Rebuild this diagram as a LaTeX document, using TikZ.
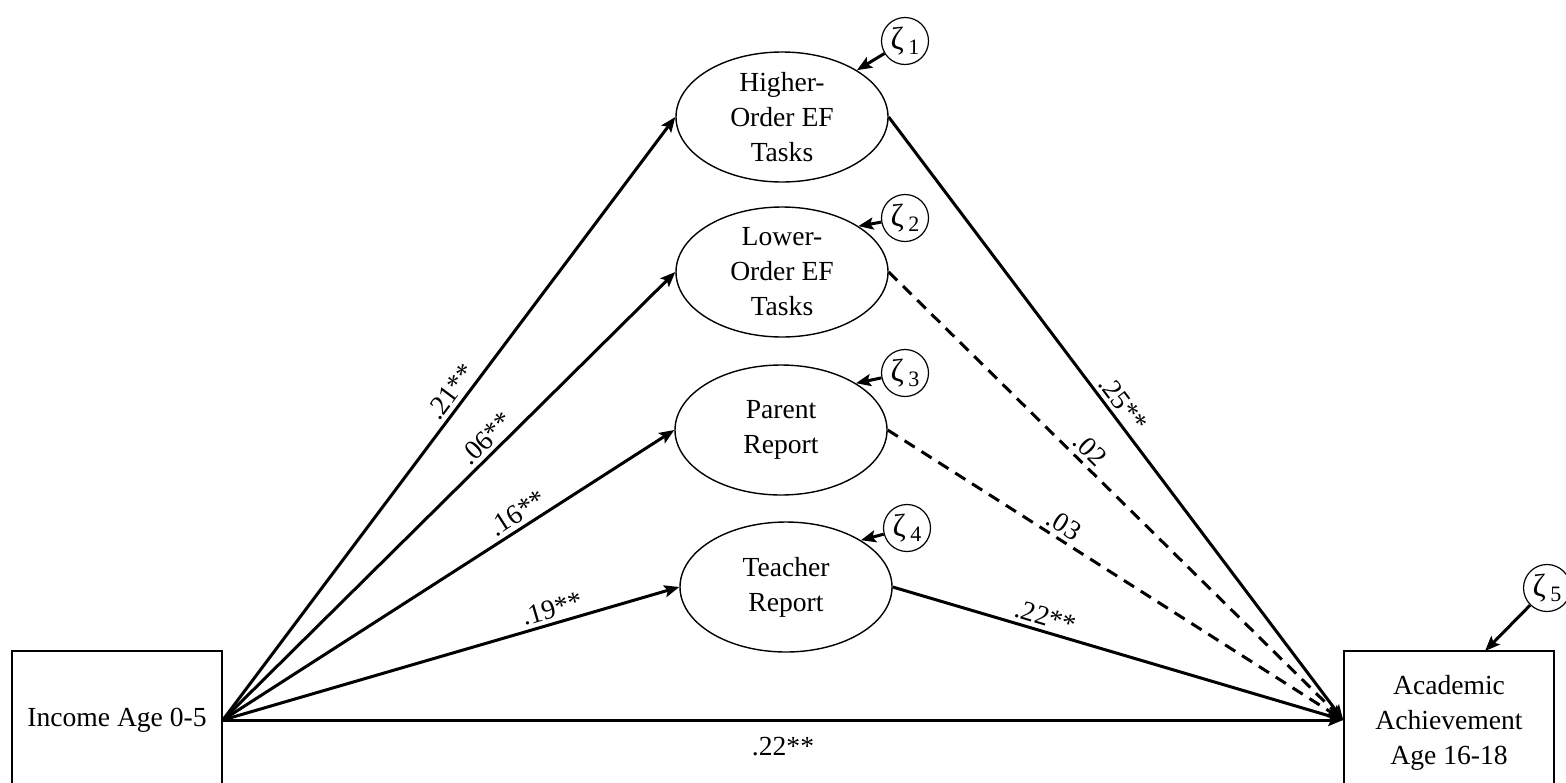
\documentclass[tikz,border=0pt]{standalone}
\usepackage{fontspec}
\setmainfont{Liberation Serif}
\usetikzlibrary{shapes.geometric,arrows.meta}
\newcommand{\resnum}[1]{{\fontsize{16}{16}\selectfont ζ}\,\raisebox{-2.5pt}{\fontsize{11}{11}\selectfont #1}}
\tikzset{
  every node/.style={font=\fontsize{13.8}{17.5}\selectfont},
  latent/.style={ellipse, draw, line width=0.7pt, minimum width=106pt, minimum height=65pt, inner sep=0pt, align=center},
  observed/.style={rectangle, draw, line width=0.8pt, minimum width=105pt, minimum height=69pt, align=center},
  resid/.style={circle, draw, line width=0.6pt, minimum size=23.5pt, inner sep=0pt},
  effect/.style={line width=1.5pt, -{Stealth[length=7.5pt,width=6pt,inset=1.5pt]}},
  nseffect/.style={effect, dash pattern=on 6pt off 4pt},
  coef/.style={sloped, above, inner sep=2pt},
}
\begin{document}
\begin{tikzpicture}[x=0.5pt, y=-0.5pt]
    \useasboundingbox (0, 0) rectangle (1566, 782);

    % Observed variables
    \node[observed] (inc) at (117, 720) {Income Age 0-5};
    \node[observed, text depth=-6pt] (acad) at (1449, 720) {Academic\\Achievement\\Age 16-18};

    % EF measures
    \node[latent] (hi) at (782, 117) {Higher-\\Order EF\\Tasks};
    \node[latent] (lo) at (782, 272) {Lower-\\Order EF\\Tasks};
    \node[latent] (par) at (781, 430) {Parent\\Report};
    \node[latent] (tea) at (786, 587) {Teacher\\Report};

    % Residuals
    \node[resid] (z1) at (905, 41) {\resnum{1}};
    \node[resid] (z2) at (905, 218) {\resnum{2}};
    \node[resid] (z3) at (905, 373) {\resnum{3}};
    \node[resid] (z4) at (907, 528) {\resnum{4}};
    \node[resid] (z5) at (1547, 588) {\resnum{5}};
    \coordinate (z5in) at (1485, 651);

    \draw[effect] (z1) -- (hi.32);
    \draw[effect] (z2) -- (lo.31);
    \draw[effect] (z3) -- (par.32);
    \draw[effect] (z4) -- (tea.32);
    \draw[effect] (z5) -- (z5in);

    % Income to EF
    \draw[effect] (inc.east) -- (hi.west) node[coef, pos=0.53] {.21**};
    \draw[effect] (inc.east) -- (lo.west) node[coef, pos=0.605] {.06**};
    \draw[effect] (inc.east) -- (par.west) node[coef, pos=0.67] {.16**};
    \draw[effect] (inc.east) -- (tea.west) node[coef, pos=0.73] {.19**};

    % EF to achievement
    \draw[effect] (hi.east) -- (acad.west) node[coef, pos=0.49] {.25**};
    \draw[nseffect] (lo.east) -- (acad.west) node[coef, pos=0.42] {.02};
    \draw[nseffect] (par.east) -- (acad.west) node[coef, pos=0.37] {.03};
    \draw[effect] (tea.east) -- (acad.west) node[coef, pos=0.33] {.22**};

    % Direct path
    \draw[effect] (inc.east) -- (acad.west) node[below, pos=0.5, inner sep=8pt] {.22**};
\end{tikzpicture}
\end{document}
